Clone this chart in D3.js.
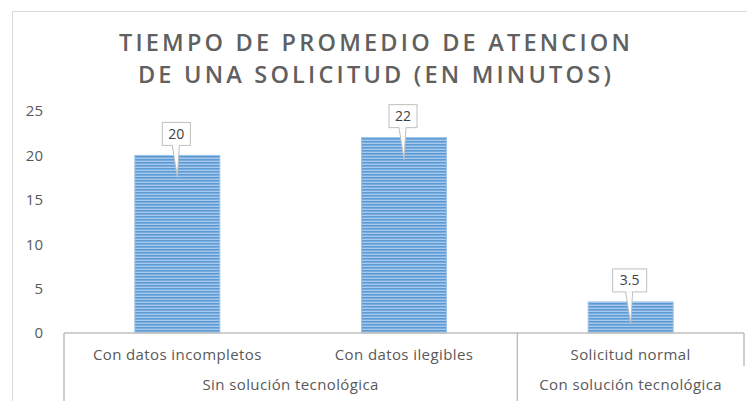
<!DOCTYPE html>
<html>
<head>
<meta charset="utf-8">
<script src="https://cdn.jsdelivr.net/npm/d3@7"></script>
<style>
  body { margin: 0; background: #fff; }
  svg { display: block; font-family: "Open Sans", "Noto Sans", sans-serif; }
</style>
</head>
<body>
<svg id="chart" width="747" height="401"></svg>
<script>
// --- data ---
const categories = ['Con datos incompletos', 'Con datos ilegibles', 'Solicitud normal'];
const groups = ['Sin solución tecnológica', 'Sin solución tecnológica', 'Con solución tecnológica'];
const values = [20, 22, 3.5];
const yTicks = [0, 5, 10, 15, 20, 25];
const titleLines = ['TIEMPO DE PROMEDIO DE ATENCION', 'DE UNA SOLICITUD (EN MINUTOS)'];

const svg = d3.select('#chart');
const axisY = 333;
const labelSize = 15;

// striped fill like the excel pattern
const defs = svg.append('defs');
const pat = defs.append('pattern')
    .attr('id', 'stripes')
    .attr('patternUnits', 'userSpaceOnUse')
    .attr('width', 6).attr('height', 3);
pat.append('rect').attr('width', 6).attr('height', 3).attr('fill', '#a8c8ec');
pat.append('rect').attr('width', 6).attr('height', 1.6).attr('fill', '#5b9bd5');

// chart frame
svg.append('rect')
    .attr('x', 12.5).attr('y', 11.5)
    .attr('width', 760).attr('height', 420)
    .attr('fill', 'none').attr('stroke', '#d9d9d9');

// title
svg.append('g').selectAll('text')
    .data(titleLines)
    .join('text')
    .attr('x', 376)
    .attr('y', (d, i) => 51 + i * 32)
    .attr('text-anchor', 'middle')
    .attr('font-size', 23.5)
    .attr('font-weight', 600)
    .attr('letter-spacing', 3.2)
    .attr('fill', '#606060')
    .text(d => d);

// scales
const x = d3.scaleBand()
    .domain(categories)
    .range([64, 744])
    .paddingInner(0.625)
    .paddingOuter(0.3125);

const y = d3.scaleLinear()
    .domain([0, 25])
    .range([axisY, 111]);

// y axis labels (no line, no grid)
const yAxis = svg.append('g')
    .attr('transform', 'translate(43,0)')
    .call(d3.axisLeft(y).tickValues(yTicks).tickSize(0).tickPadding(0));
yAxis.select('.domain').remove();
yAxis.selectAll('text')
    .attr('font-size', labelSize)
    .attr('fill', '#595959')
    .attr('font-family', '"Open Sans", sans-serif');

// bars
svg.append('g').selectAll('rect')
    .data(values)
    .join('rect')
    .attr('x', (d, i) => x(categories[i]))
    .attr('y', d => y(d))
    .attr('width', x.bandwidth())
    .attr('height', d => y(0) - y(d))
    .attr('fill', 'url(#stripes)')
    .attr('stroke', '#9dc3e6')
    .attr('stroke-width', 1);

// category axis line and separators
const step = x.step();
const left = x.range()[0], right = x.range()[1];
const axisG = svg.append('g').attr('stroke', '#bfbfbf').attr('stroke-width', 1.5);
axisG.append('line').attr('x1', left).attr('x2', right).attr('y1', axisY).attr('y2', axisY);
axisG.append('line').attr('x1', left).attr('x2', left).attr('y1', axisY).attr('y2', 401);
axisG.append('line').attr('x1', left + step * 2).attr('x2', left + step * 2).attr('y1', axisY).attr('y2', 401);
axisG.append('line').attr('x1', right).attr('x2', right).attr('y1', axisY).attr('y2', 366);

// category labels
svg.append('g').selectAll('text')
    .data(categories)
    .join('text')
    .attr('x', d => x(d) + x.bandwidth() / 2)
    .attr('y', 360)
    .attr('text-anchor', 'middle')
    .attr('font-size', labelSize)
    .attr('letter-spacing', 0.4)
    .attr('fill', '#595959')
    .text(d => d);

// group labels
const groupSpans = [];
groups.forEach((g, i) => {
    const last = groupSpans[groupSpans.length - 1];
    if (last && last.name === g) last.end = i;
    else groupSpans.push({ name: g, start: i, end: i });
});
svg.append('g').selectAll('text')
    .data(groupSpans)
    .join('text')
    .attr('x', d => left + step * (d.start + d.end + 1) / 2)
    .attr('y', 390)
    .attr('text-anchor', 'middle')
    .attr('font-size', labelSize)
    .attr('letter-spacing', 0.4)
    .attr('fill', '#595959')
    .text(d => d.name);

// data label callouts
const labels = svg.append('g');
values.forEach((v, i) => {
    const cx = x(categories[i]) + x.bandwidth() / 2;
    const top = y(v);
    const txt = String(v);
    const w = txt.length > 2 ? 34 : 28, h = 23;
    const bx = cx - w / 2 - 1, by = top - 10 - h;
    const tipX = cx, tipY = top + 22;
    // pointer wedge
    labels.append('path')
        .attr('d', `M${cx - 5},${by + h} L${tipX},${tipY} L${cx + 2},${by + h}`)
        .attr('fill', '#fff')
        .attr('stroke', '#bfbfbf')
        .attr('stroke-width', 1);
    labels.append('rect')
        .attr('x', bx).attr('y', by)
        .attr('width', w).attr('height', h)
        .attr('fill', '#fff')
        .attr('stroke', '#bfbfbf')
        .attr('stroke-width', 1);
    // cover the wedge joint so the box bottom looks open
    labels.append('line')
        .attr('x1', cx - 4.5).attr('x2', cx + 1.5)
        .attr('y1', by + h).attr('y2', by + h)
        .attr('stroke', '#fff').attr('stroke-width', 1.5);
    labels.append('text')
        .attr('x', bx + w / 2).attr('y', by + h / 2 + 5)
        .attr('text-anchor', 'middle')
        .attr('font-size', 14)
        .attr('fill', '#404040')
        .text(txt);
});
</script>
</body>
</html>
